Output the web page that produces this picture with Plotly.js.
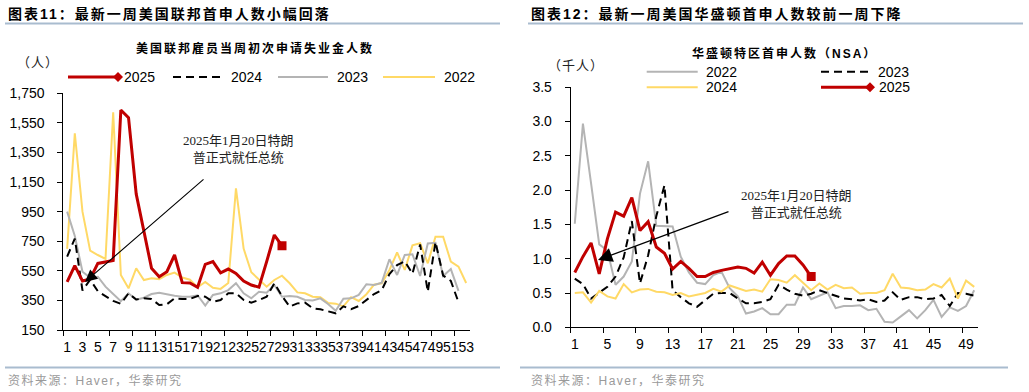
<!DOCTYPE html>
<html><head><meta charset="utf-8">
<script src="https://cdn.plot.ly/plotly-3.0.1.min.js"></script>
<style>html,body{margin:0;padding:0;background:#fff;overflow:hidden}#chart{width:1029px;height:392px}</style>
</head><body><div id="chart"></div>
<script>
// ---------- DATA ----------
// Left: US federal employees initial jobless claims (persons), by week
const fed2025 = [475,585,482,495,600,612,620,1637,1585,1070,815,567,510,544,657,470,468,439,594,612,537,562,533,481,454,439,612,792,720];
const fed2024 = [646,768,417,490,412,378,347,327,398,356,364,360,319,324,364,360,360,380,375,341,353,398,398,353,335,353,375,466,380,308,330,335,297,290,274,263,310,290,312,353,393,420,528,589,615,531,728,409,745,518,482,338];
const fed2023 = [950,785,544,504,510,443,393,345,398,355,368,393,402,391,382,375,375,385,315,387,398,420,466,398,364,409,402,454,375,380,375,353,349,364,326,280,362,364,387,459,455,470,628,522,657,662,515,735,740,515,562,415];
const fed2022 = [698,1480,950,686,657,630,1622,522,432,567,488,500,494,522,538,505,490,439,475,435,428,468,1108,700,540,490,443,488,517,466,404,398,375,371,333,328,310,372,346,392,456,466,556,674,556,722,736,601,781,781,612,578,468];
// Right: Washington DC initial claims NSA (thousands), by week
const dc2022 = [1.51,2.97,2.10,1.21,1.12,0.62,0.74,0.96,1.95,2.42,1.48,1.48,1.47,1.03,0.80,0.65,0.63,0.76,0.81,0.57,0.45,0.20,0.23,0.28,0.19,0.19,0.33,0.33,0.58,0.41,0.46,0.51,0.28,0.31,0.31,0.32,0.25,0.27,0.08,0.07,0.16,0.25,0.13,0.25,0.40,0.15,0.29,0.24,0.31,0.54];
const dc2023 = [0.71,0.63,0.42,0.50,0.59,0.74,1.02,1.55,0.64,1.05,1.62,2.07,0.54,0.44,0.35,0.30,0.40,0.49,0.50,0.50,0.42,0.35,0.35,0.37,0.41,0.62,0.55,0.49,0.46,0.49,0.54,0.50,0.45,0.42,0.41,0.39,0.41,0.37,0.39,0.51,0.40,0.44,0.44,0.41,0.42,0.47,0.31,0.50,0.49,0.46];
const dc2024 = [0.50,0.51,0.36,0.53,0.45,0.42,0.63,0.51,0.55,0.56,0.52,0.51,0.47,0.50,0.45,0.48,0.50,0.56,0.52,0.61,0.57,0.53,0.55,0.52,0.70,0.69,0.65,0.76,0.65,0.54,0.64,0.55,0.62,0.57,0.58,0.49,0.50,0.50,0.54,0.78,0.58,0.57,0.54,0.55,0.63,0.58,0.71,0.42,0.68,0.59];
const dc2025 = [0.80,1.03,1.23,0.78,1.29,1.68,1.62,1.89,1.41,1.54,1.17,1.08,0.85,0.96,0.86,0.74,0.74,0.80,0.83,0.86,0.88,0.86,0.79,0.95,0.76,0.93,1.04,1.04,0.91,0.74];

const seriesNames = ['2025','2024','2023','2022'];
const leftTitle = '图表11：最新一周美国联邦首申人数小幅回落';
const rightTitle = '图表12：最新一周美国华盛顿首申人数较前一周下降';
const leftSub = '美国联邦雇员当周初次申请失业金人数';
const rightSub = '华盛顿特区首申人数（NSA）';
const leftUnit = '（人）';
const rightUnit = '（千人）';
const noteText = '2025年1月20日特朗<br>普正式就任总统';
const sourceText = '资料来源：Haver，华泰研究';

// ---------- STYLE ----------
const W = 1029, H = 392;
const px = x => x / W, py = y => 1 - y / H;
const weeks = arr => arr.map((_, i) => i + 1);
const SANS = 'Liberation Sans, Arial, Noto Sans CJK SC, sans-serif';
const SERIF = 'Liberation Serif, Noto Sans CJK SC, serif';
const C = {r:'#c00000', k:'#000000', g:'#b4b4b4', y:'#ffd966'};

const traces = [];
function line(y, color, dash, width, xa, ya, name, endMarker) {
  const x = weeks(y);
  traces.push({type:'scatter', mode:'lines', x:x, y:y, name:name, xaxis:xa, yaxis:ya,
    line:{color:color, width:width, dash:dash||'solid'}, hoverinfo:'skip'});
  if (endMarker) {
    traces.push({type:'scatter', mode:'markers', x:x.slice(-1), y:y.slice(-1), name:name, xaxis:xa, yaxis:ya,
      marker:{symbol:'square', color:color, size:9, opacity:1, line:{width:0}}, hoverinfo:'skip'});
  }
}
const DASH = '8px,5px';
line(fed2022, C.y, null, 2, 'x', 'y', '2022');
line(fed2023, C.g, null, 2, 'x', 'y', '2023');
line(fed2024, C.k, DASH, 2, 'x', 'y', '2024');
line(fed2025, C.r, null, 3, 'x', 'y', '2025', true);
line(dc2022, C.g, null, 2, 'x2', 'y2', '2022');
line(dc2023, C.k, DASH, 2, 'x2', 'y2', '2023');
line(dc2024, C.y, null, 2, 'x2', 'y2', '2024');
line(dc2025, C.r, null, 3, 'x2', 'y2', '2025', true);

const axBase = {showline:true, linecolor:'#000', linewidth:1, showgrid:false, zeroline:false,
  tickfont:{family:SANS, size:14, color:'#000'}, fixedrange:true};
const layout = {
  width:W, height:H, margin:{l:0,r:0,t:0,b:0}, paper_bgcolor:'#fff', plot_bgcolor:'#fff',
  showlegend:false, font:{family:SANS, color:'#000'},
  xaxis: Object.assign({}, axBase, {domain:[px(63.3), px(470)], range:[0.5, 53.5], anchor:'y',
    tickmode:'linear', tick0:1, dtick:2, ticks:'', tickangle:0, ticklabelstandoff:4,
    minor:{tickmode:'linear', tick0:0.5, dtick:3, ticks:'outside', ticklen:5, tickcolor:'#000', showgrid:false}}),
  yaxis: Object.assign({}, axBase, {domain:[py(330), py(93.3)], range:[150, 1750], anchor:'x',
    tickmode:'linear', tick0:150, dtick:200, tickformat:',d', ticks:'outside', ticklen:5, tickcolor:'#000', ticklabelstandoff:10}),
  xaxis2: Object.assign({}, axBase, {domain:[px(570.7), px(978.3)], range:[0.5, 50.5], anchor:'y2',
    tickmode:'linear', tick0:1, dtick:4, ticks:'', tickangle:0, ticklabelstandoff:4,
    minor:{tickmode:'linear', tick0:0.5, dtick:4, ticks:'outside', ticklen:5, tickcolor:'#000', showgrid:false}}),
  yaxis2: Object.assign({}, axBase, {domain:[py(327.3), py(87.3)], range:[0, 3.5], anchor:'x2',
    tickmode:'linear', tick0:0, dtick:0.5, tickformat:'.1f', ticks:'outside', ticklen:5, tickcolor:'#000', ticklabelstandoff:10}),
  shapes:[], annotations:[]
};

const spacing = [];
function txt(text, x, y, size, opts) {
  opts = opts || {};
  layout.annotations.push(Object.assign({xref:'paper', yref:'paper', x:px(x), y:py(y), text:text,
    showarrow:false, xanchor:'left', yanchor:'middle', align:'left',
    font:{family:opts.family||SANS, size:size, color:opts.color||'#000'}}, opts.extra||{}));
  spacing.push(opts.ls || 0);
}
function hline(x0, x1, y, color, width, dash) {
  layout.shapes.push({type:'line', xref:'paper', yref:'paper', x0:px(x0), x1:px(x1), y0:py(y), y1:py(y),
    line:{color:color, width:width, dash:dash||'solid'}});
}
function diamond(cx, cy, color) {
  layout.shapes.push({type:'path', xref:'paper', yref:'paper', xsizemode:'pixel', ysizemode:'pixel',
    xanchor:px(cx), yanchor:py(cy), path:'M-5,0L0,5L5,0L0,-5Z', fillcolor:color, line:{width:0}});
}

// headers & separators
txt('<b>' + leftTitle + '</b>', 6, 14, 14, {ls:2});
txt('<b>' + rightTitle + '</b>', 529, 14, 14, {ls:2});
hline(5, 500, 23.5, '#a9bccf', 2);
hline(528, 1023, 23.5, '#a9bccf', 2);
hline(5, 500, 367.5, '#a9bccf', 2);
hline(520, 1008, 367.5, '#a9bccf', 2);
txt(sourceText, 6, 380, 12, {color:'#9a9a9a', ls:1.5});
txt(sourceText, 529, 380, 12, {color:'#9a9a9a', ls:1.5});

// subtitles & units
txt('<b>' + leftSub + '</b>', 134, 48, 12, {ls:2});
txt('<b>' + rightSub + '</b>', 690, 53, 12, {ls:2});
txt(leftUnit, 15, 62, 13, {color:'#222', ls:1});
txt(rightUnit, 546, 65, 13, {color:'#222', ls:1});

// custom legends
const legLeft = [[C.r,null,68,118,true],[C.k,DASH,173,222,false],[C.g,null,278,328,false],[C.y,null,383,435,false]];
legLeft.forEach((d, i) => {
  hline(d[2], d[3], 77, d[0], i === 0 ? 3 : 2, d[1]);
  if (d[4]) diamond(d[3], 77, d[0]);
  txt(seriesNames[i], d[3] + (d[4] ? 4 : 7), 77, 14);
});
const legRight = [[C.g,null,646.7,697.7,71.7,'2022',false],[C.k,DASH,821,870,71.7,'2023',false],
                  [C.y,null,646.7,697.7,87.3,'2024',false],[C.r,null,821,870,87.3,'2025',true]];
legRight.forEach(d => {
  hline(d[2], d[3], d[4], d[0], d[6] ? 3 : 2, d[1]);
  if (d[6]) diamond(d[3], d[4], d[0]);
  txt(d[5], d[3] + (d[6] ? 7 : 6), d[4], 14);
});

// notes with arrows
txt(noteText, 238, 149, 13, {family:SERIF, color:'#222', extra:{xanchor:'center', align:'center'}});
txt(noteText, 796, 204, 13, {family:SERIF, color:'#222', extra:{xanchor:'center', align:'center'}});
layout.annotations.push({xref:'paper', yref:'paper', x:px(85), y:py(282), ax:120, ay:-104, text:'',
  showarrow:true, arrowhead:2, arrowsize:2.2, arrowwidth:1.1, arrowcolor:'#000', standoff:0});
spacing.push(0);
layout.annotations.push({xref:'paper', yref:'paper', x:px(598), y:py(260), ax:132, ay:-49, text:'',
  showarrow:true, arrowhead:2, arrowsize:2.2, arrowwidth:1.3, arrowcolor:'#000', standoff:0});
spacing.push(0);

// letter-spacing for Chinese typesetting
let css = '';
spacing.forEach((s, i) => { if (s) css += 'g.annotation[data-index="' + i + '"] text{letter-spacing:' + s + 'px}\n'; });
const st = document.createElement('style'); st.textContent = css; document.head.appendChild(st);

Plotly.newPlot('chart', traces, layout, {staticPlot:true, displayModeBar:false});
</script></body></html>
